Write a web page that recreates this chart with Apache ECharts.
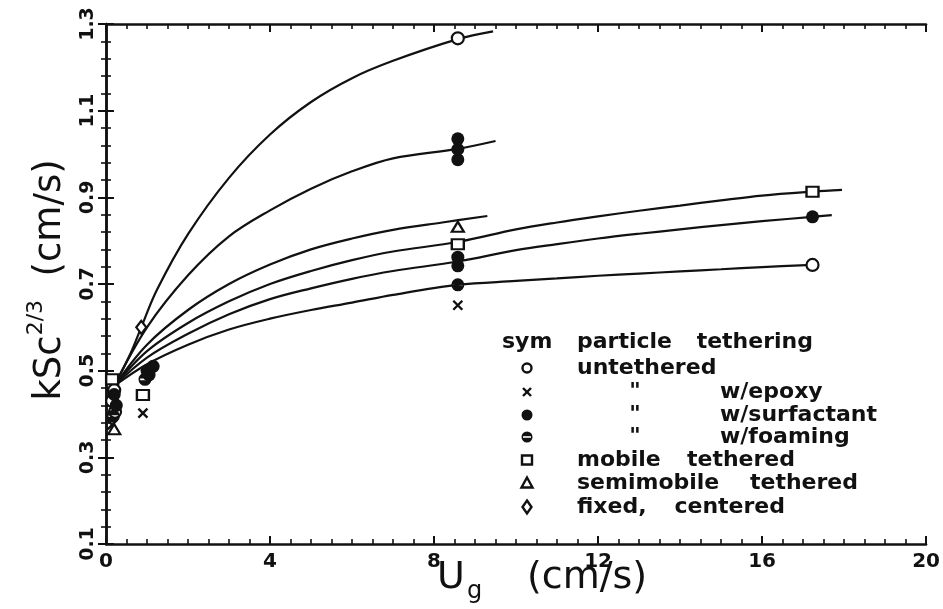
<!DOCTYPE html>
<html><head><meta charset="utf-8">
<script src="https://cdn.jsdelivr.net/npm/echarts@6/dist/echarts.min.js"></script>
<style>html,body{margin:0;padding:0;background:#fff}#chart{width:943px;height:609px}</style>
</head><body><div id="chart"></div>
<script>
// Axis ranges and tick spacing
const xRange = [0, 20];
const yRange = [0.1, 1.3];
const xStep = 4;
const yStep = 0.2;

// Fitted curves, k·Sc^(2/3) [cm/s] against U_g [cm/s]
const curveTop    = [[0.2,0.465],[0.6,0.54],[0.86,0.6],[1.24,0.686],[2,0.815],[3,0.945],[4,1.045],[5,1.12],[6,1.175],[7,1.215],[8.58,1.265],[9.44,1.283]];
const curveSecond = [[0.2,0.465],[1,0.6],[2,0.72],[3,0.81],[4,0.87],[5,0.92],[6,0.96],[7,0.99],[8.58,1.012],[9.5,1.03]];
const curveThird  = [[0.2,0.465],[1,0.56],[2,0.64],[3,0.70],[4,0.745],[5,0.78],[6,0.805],[7,0.825],[8.2,0.842],[9.3,0.857]];
const curveFourth = [[0.2,0.465],[1,0.545],[2,0.61],[3,0.66],[4,0.70],[5,0.73],[6,0.755],[7,0.775],[8.58,0.797],[10,0.826],[11,0.842],[12,0.856],[13,0.869],[14,0.881],[15,0.893],[16,0.904],[17.23,0.913],[17.95,0.917]];
const curveFifth  = [[0.2,0.465],[1,0.53],[2,0.585],[3,0.63],[4,0.665],[5,0.69],[6,0.712],[7,0.73],[8.58,0.752],[10,0.778],[11,0.792],[12,0.805],[13,0.816],[14,0.826],[15,0.836],[16,0.845],[17.23,0.855],[17.7,0.859]];
const curveSixth  = [[0.2,0.465],[1,0.515],[2,0.56],[3,0.595],[4,0.62],[5,0.64],[6,0.657],[7,0.675],[8.58,0.698],[10,0.707],[11,0.713],[12,0.719],[13,0.724],[14,0.729],[15,0.734],[16,0.739],[17.23,0.744]];

// Measured points by particle tethering
const untethered = [[0.2,0.455],[0.15,0.43],[0.22,0.405],[8.58,1.267],[17.23,0.744]];
const epoxy      = [[0.15,0.375],[0.9,0.402],[8.58,0.651]];
const surfactant = [[0.2,0.445],[0.25,0.42],[1.0,0.50],[1.15,0.51],[1.05,0.49],[8.58,0.987],[8.58,1.011],[8.58,1.035],[8.58,0.742],[8.58,0.762],[17.23,0.855]];
const foaming    = [[0.18,0.395],[0.95,0.48],[8.58,0.698]];
const mobile     = [[0.15,0.48],[0.9,0.444],[8.58,0.792],[17.23,0.913]];
const semimobile = [[0.2,0.365],[8.58,0.832]];
const fixedCentered = [[0.86,0.60]];

const INK = '#111';
const FONT = '"DejaVu Sans", sans-serif';

// filled disc with a white bar through it (hole via opposite winding)
const halfDisc = 'path://M6,0A6,6 0 1,1 6,12A6,6 0 1,1 6,0ZM1.6,5.2L1.6,6.8L10.4,6.8L10.4,5.2Z';
const crossMark = 'path://M0,0L10,10M10,0L0,10';

function curve(data) {
  return { type: 'line', data, smooth: 0.35, showSymbol: false, silent: true, z: 2,
           lineStyle: { color: INK, width: 2.2 } };
}
function points(name, data, symbol, size, filled, extra) {
  return Object.assign({ type: 'scatter', name, data, symbol, symbolSize: size, z: 5,
    itemStyle: { opacity: 1, color: filled ? INK : '#fff', borderColor: INK, borderWidth: filled ? 0 : 2.2 } }, extra || {});
}

const tickCommon = {
  axisLine: { show: true, lineStyle: { color: INK, width: 2.5 } },
  axisTick: { show: true, inside: true, length: 8, lineStyle: { color: INK, width: 2 } },
  minorTick: { show: true, length: 5, lineStyle: { color: INK, width: 1.6 } },
  splitLine: { show: false }, minorSplitLine: { show: false }
};

const chart = echarts.init(document.getElementById('chart'), null, { renderer: 'canvas' });

// legend table drawn inside the plot
const rowY = [342, 368, 392, 415, 437, 460, 483, 507];
const symX = 527;
const legendFont = 'bold 22px ' + FONT;
function txt(x, y, s, align) {
  return { type: 'text', x, y, z: 10, style: { text: s, font: legendFont, fill: INK, align: align || 'left', verticalAlign: 'middle' } };
}
const legendGraphics = [
  txt(502, rowY[0], 'sym'), txt(577, rowY[0], 'particle'), txt(813, rowY[0], 'tethering', 'right'),
  txt(577, rowY[1], 'untethered'),
  txt(635, rowY[2], '"', 'center'), txt(720, rowY[2], 'w/epoxy'),
  txt(635, rowY[3], '"', 'center'), txt(720, rowY[3], 'w/surfactant'),
  txt(635, rowY[4], '"', 'center'), txt(720, rowY[4], 'w/foaming'),
  txt(577, rowY[5], 'mobile'), txt(795, rowY[5], 'tethered', 'right'),
  txt(577, rowY[6], 'semimobile'), txt(858, rowY[6], 'tethered', 'right'),
  txt(577, rowY[7], 'fixed,'), txt(785, rowY[7], 'centered', 'right'),
  { type: 'circle', shape: { cx: symX, cy: rowY[1], r: 4.5 }, style: { fill: '#fff', stroke: INK, lineWidth: 2.4 } },
  { type: 'polyline', shape: { points: [[symX-4, rowY[2]-4], [symX+4, rowY[2]+4]] }, style: { stroke: INK, lineWidth: 2.4 } },
  { type: 'polyline', shape: { points: [[symX+4, rowY[2]-4], [symX-4, rowY[2]+4]] }, style: { stroke: INK, lineWidth: 2.4 } },
  { type: 'circle', shape: { cx: symX, cy: rowY[3], r: 5.5 }, style: { fill: INK } },
  { type: 'circle', shape: { cx: symX, cy: rowY[4], r: 5.5 }, style: { fill: INK } },
  { type: 'rect', shape: { x: symX-4, y: rowY[4]-0.8, width: 8, height: 1.6 }, style: { fill: '#fff' } },
  { type: 'rect', shape: { x: symX-5, y: rowY[5]-4.5, width: 10, height: 9 }, style: { fill: '#fff', stroke: INK, lineWidth: 2.4 } },
  { type: 'polygon', shape: { points: [[symX, rowY[6]-5.5], [symX+5.5, rowY[6]+4.5], [symX-5.5, rowY[6]+4.5]] }, style: { fill: '#fff', stroke: INK, lineWidth: 2.4 } },
  { type: 'polygon', shape: { points: [[symX, rowY[7]-6.5], [symX+4.5, rowY[7]], [symX, rowY[7]+6.5], [symX-4.5, rowY[7]]] }, style: { fill: '#fff', stroke: INK, lineWidth: 2.4 } }
];

// axis titles
const titleGraphics = [
  { type: 'text', x: 437, y: 578, style: { text: 'U', font: '38px ' + FONT, fill: INK, align: 'left', verticalAlign: 'middle' } },
  { type: 'text', x: 467, y: 592, style: { text: 'g', font: '24px ' + FONT, fill: INK, align: 'left', verticalAlign: 'middle' } },
  { type: 'text', x: 527, y: 578, style: { text: '(cm/s)', font: '38px ' + FONT, fill: INK, align: 'left', verticalAlign: 'middle' } },
  { type: 'text', x: 47, y: 280, rotation: Math.PI / 2,
    style: { text: '{m|kSc}{s|2/3}{m|  (cm/s)}', fill: INK, align: 'center', verticalAlign: 'middle',
      rich: { m: { font: '37px ' + FONT, fill: INK, lineHeight: 44, verticalAlign: 'bottom' },
              s: { font: '22px ' + FONT, fill: INK, lineHeight: 22, verticalAlign: 'top' } } } }
];

const option = {
  backgroundColor: '#fff',
  animation: false,
  grid: { left: 106, right: 12, top: 24, bottom: 65, containLabel: false },
  xAxis: [
    Object.assign({ type: 'value', min: xRange[0], max: xRange[1], interval: xStep, position: 'bottom',
      minorTick: Object.assign({}, tickCommon.minorTick, { splitNumber: 8 }),
      axisLabel: { color: INK, fontFamily: FONT, fontWeight: 'bold', fontSize: 20, margin: 8 } },
      { axisLine: tickCommon.axisLine, axisTick: tickCommon.axisTick, splitLine: tickCommon.splitLine }),
    Object.assign({ type: 'value', min: xRange[0], max: xRange[1], interval: xStep, position: 'top',
      minorTick: Object.assign({}, tickCommon.minorTick, { splitNumber: 8 }),
      axisLabel: { show: false } },
      { axisLine: tickCommon.axisLine, axisTick: tickCommon.axisTick, splitLine: tickCommon.splitLine })
  ],
  yAxis: [
    Object.assign({ type: 'value', min: yRange[0], max: yRange[1], interval: yStep, position: 'left',
      minorTick: Object.assign({}, tickCommon.minorTick, { splitNumber: 5 }),
      axisLabel: { color: INK, fontFamily: FONT, fontWeight: 'bold', fontSize: 19, margin: 8, rotate: 90,
                   formatter: v => v.toFixed(1) } },
      { axisLine: tickCommon.axisLine, axisTick: tickCommon.axisTick, splitLine: tickCommon.splitLine }),
    Object.assign({ type: 'value', min: yRange[0], max: yRange[1], interval: yStep, position: 'right',
      minorTick: Object.assign({}, tickCommon.minorTick, { splitNumber: 5 }),
      axisLabel: { show: false } },
      { axisLine: tickCommon.axisLine, axisTick: tickCommon.axisTick, splitLine: tickCommon.splitLine })
  ],
  series: [
    curve(curveTop), curve(curveSecond), curve(curveThird),
    curve(curveFourth), curve(curveFifth), curve(curveSixth),
    points('untethered', untethered, 'circle', 12, false),
    points('w/epoxy', epoxy, crossMark, 9, false, { itemStyle: { opacity: 1, color: 'none', borderColor: INK, borderWidth: 2.4 } }),
    points('w/surfactant', surfactant, 'circle', 13, true),
    points('w/foaming', foaming, halfDisc, 13, true),
    points('mobile tethered', mobile, 'rect', [12, 10], false),
    points('semimobile tethered', semimobile, 'triangle', [12, 10], false),
    points('fixed, centered', fixedCentered, 'diamond', [10, 13], false)
  ],
  graphic: legendGraphics.concat(titleGraphics)
};
chart.setOption(option);
</script></body></html>
